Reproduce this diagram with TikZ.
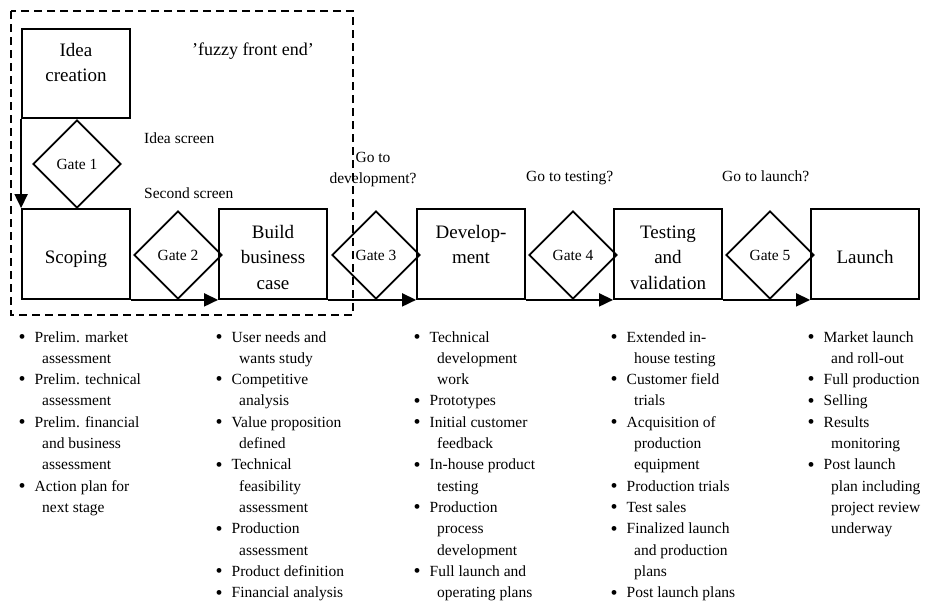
\documentclass[tikz,border=0pt]{standalone}
\usepackage{fontspec}
\setmainfont{Liberation Serif}
\usetikzlibrary{shapes.geometric,arrows.meta}

% font sizes
\newcommand\lblfont{\fontsize{15.5}{21.33}\selectfont}
\newcommand\stagefont{\fontsize{19}{25.6}\selectfont}
% stacked centred lines, baseline = first line
\newcommand\boxlines[1]{\begin{tabular}[t]{@{}c@{}}#1\end{tabular}}
% bullet column, baseline = first line
\newcommand\bulletcol[1]{\begin{tabular}[t]{@{}l@{}}#1\end{tabular}}
\newcommand\bul{\makebox[19.5pt][l]{\makebox[14pt]{\raisebox{-1.3pt}{\fontsize{20}{21.33}\selectfont\textbullet}}}}
\newcommand\cont{\hspace*{27pt}}

\begin{document}
\begin{tikzpicture}[x=1pt,y=-1pt,
  stagebox/.style={draw, line width=1.8pt, minimum width=108pt, minimum height=90pt, inner sep=0pt},
  stagetext/.style={font=\stagefont, inner sep=0pt, anchor=base},
  gate/.style={draw, diamond, line width=1.7pt, minimum width=88pt, minimum height=88pt, inner sep=0pt, font=\lblfont},
  flow/.style={line width=1.8pt, -{Triangle[length=14pt,width=13pt]}},
  note/.style={font=\lblfont, inner sep=0pt, anchor=base west},
  activities/.style={font=\lblfont, inner sep=0pt, anchor=base west},
  fuzzyframe/.style={line width=1.8pt, dash pattern=on 8pt off 5pt}]

\useasboundingbox (0,0) rectangle (926,603);

% stage boxes
\node[stagebox, minimum height=89pt] (idea) at (76,73.5) {};
\node[stagebox] (scoping) at (76,254) {};
\node[stagebox] (build)   at (273,254) {};
\node[stagebox] (dev)     at (471,254) {};
\node[stagebox] (test)    at (668,254) {};
\node[stagebox] (launch)  at (865,254) {};

% stage titles
\node[stagetext] (ideatxt)    at (76,56)   {\boxlines{Idea\\creation}};
\node[stagetext] (scopingtxt) at (76,263)  {Scoping};
\node[stagetext] (buildtxt)   at (273,238) {\boxlines{Build\\business\\case}};
\node[stagetext] (devtxt)     at (471,238) {\boxlines{Develop-\\ment}};
\node[stagetext] (testtxt)    at (668,238) {\boxlines{Testing\\and\\validation}};
\node[stagetext] (launchtxt)  at (865,263) {Launch};

% gates
\node[gate] (g1) at (77,164)  {Gate 1};
\node[gate] (g2) at (178,255) {Gate 2};
\node[gate] (g3) at (376,255) {Gate 3};
\node[gate] (g4) at (573,255) {Gate 4};
\node[gate] (g5) at (770,255) {Gate 5};

% flow
\draw[flow] (idea.south west) -- (scoping.north west);
\draw[flow] (scoping.south east) -- (build.south west);
\draw[flow] (build.south east) -- (dev.south west);
\draw[flow] (dev.south east) -- (test.south west);
\draw[flow] (test.south east) -- (launch.south west);

% fuzzy front end frame
\draw[fuzzyframe] (11,11) rectangle (353,315);
\node[font=\fontsize{18}{22}\selectfont, inner sep=0pt, anchor=base] (ffe) at (253,55) {'fuzzy front end'};

% gate questions
\node[note] (q1) at (144,143) {Idea screen};
\node[note] (q2) at (144,198) {Second screen};
\node[font=\lblfont, inner sep=0pt, anchor=base] (q3) at (373,162) {\boxlines{Go to\\development?}};
\node[note] (q4) at (526,181) {Go to testing?};
\node[note] (q5) at (722,181) {Go to launch?};

% activities per stage
\node[activities] (act1) at (15,342) {\bulletcol{
\bul Prelim. market\\ \cont assessment\\
\bul Prelim. technical\\ \cont assessment\\
\bul Prelim. financial\\ \cont and business\\ \cont assessment\\
\bul Action plan for\\ \cont next stage}};

\node[activities] (act2) at (212,342) {\bulletcol{
\bul User needs and\\ \cont wants study\\
\bul Competitive\\ \cont analysis\\
\bul Value proposition\\ \cont defined\\
\bul Technical\\ \cont feasibility\\ \cont assessment\\
\bul Production\\ \cont assessment\\
\bul Product definition\\
\bul Financial analysis}};

\node[activities] (act3) at (410,342) {\bulletcol{
\bul Technical\\ \cont development\\ \cont work\\
\bul Prototypes\\
\bul Initial customer\\ \cont feedback\\
\bul In-house product\\ \cont testing\\
\bul Production\\ \cont process\\ \cont development\\
\bul Full launch and\\ \cont operating plans}};

\node[activities] (act4) at (607,342) {\bulletcol{
\bul Extended in-\\ \cont house testing\\
\bul Customer field\\ \cont trials\\
\bul Acquisition of\\ \cont production\\ \cont equipment\\
\bul Production trials\\
\bul Test sales\\
\bul Finalized launch\\ \cont and production\\ \cont plans\\
\bul Post launch plans}};

\node[activities] (act5) at (804,342) {\bulletcol{
\bul Market launch\\ \cont and roll-out\\
\bul Full production\\
\bul Selling\\
\bul Results\\ \cont monitoring\\
\bul Post launch\\ \cont plan including\\ \cont project review\\ \cont underway}};

\end{tikzpicture}
\end{document}
